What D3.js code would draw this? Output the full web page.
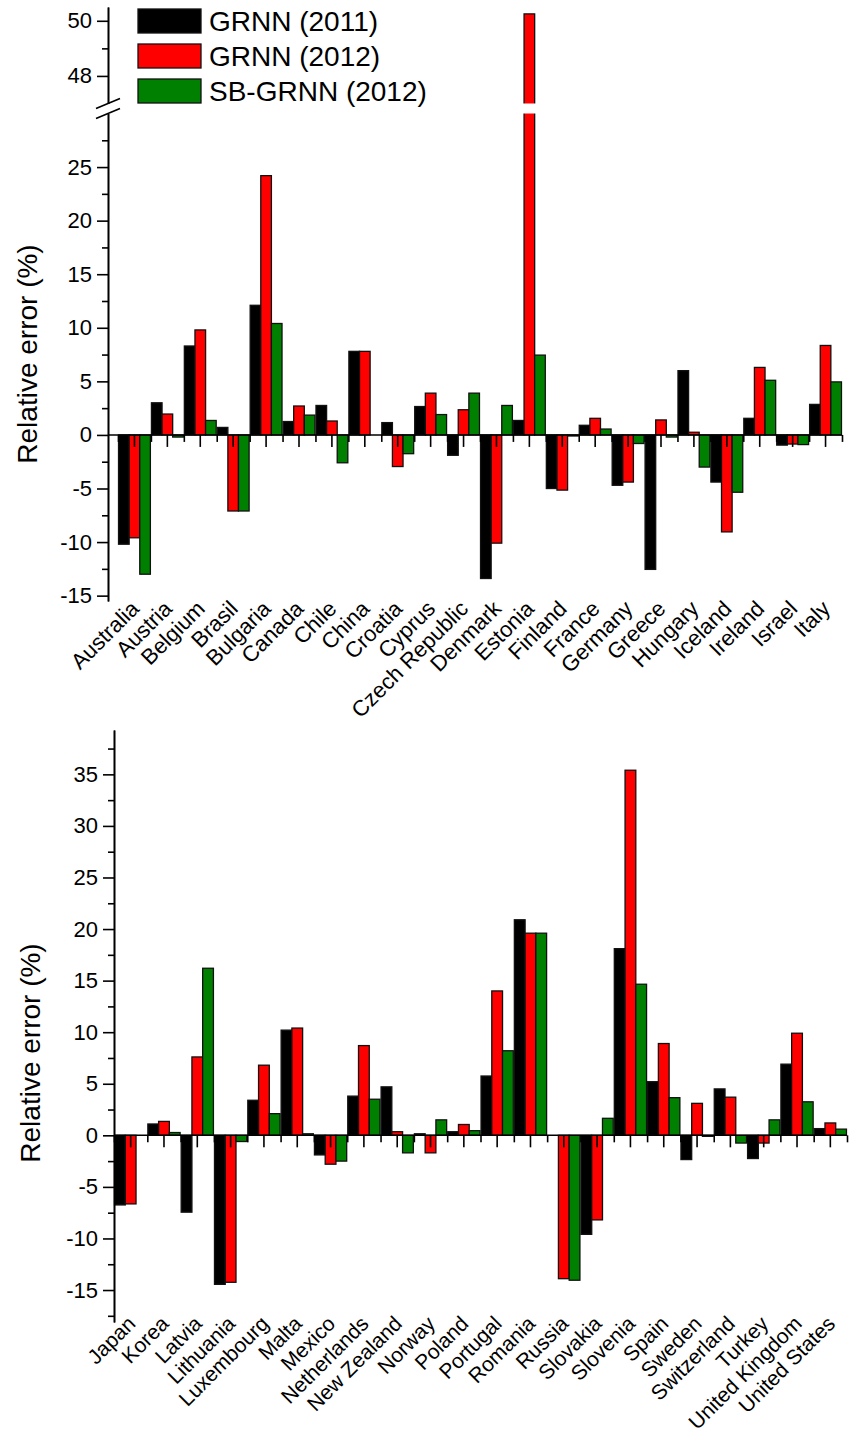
<!DOCTYPE html>
<html><head><meta charset="utf-8">
<script src="https://cdn.jsdelivr.net/npm/d3@7"></script>
<style>
body{margin:0;background:#fff}
text{font-family:Arial,"Liberation Sans",sans-serif;fill:#000}
</style>
</head><body>
<svg id="c" width="857" height="1438"></svg>
<script>
// ---------- data ----------
const seriesNames = ["GRNN (2011)", "GRNN (2012)", "SB-GRNN (2012)"];
const seriesColors = ["#000000", "#ff0000", "#008000"];

const topCategories = ["Australia","Austria","Belgium","Brasil","Bulgaria","Canada","Chile","China","Croatia","Cyprus","Czech Republic","Denmark","Estonia","Finland","France","Germany","Greece","Hungary","Iceland","Ireland","Israel","Italy"];
const topGRNN2011   = [-10.2, 3.0, 8.3, 0.7, 12.1, 1.25, 2.75, 7.8, 1.15, 2.65, -1.9, -13.4, 1.35, -5.0, 0.9, -4.7, -12.55, 6.0, -4.4, 1.55, -0.95, 2.85];
const topGRNN2012   = [-9.6, 1.95, 9.8, -7.1, 24.2, 2.7, 1.3, 7.8, -2.95, 3.9, 2.35, -10.1, 50.25, -5.15, 1.55, -4.4, 1.4, 0.25, -9.05, 6.3, -0.85, 8.35];
const topSBGRNN2012 = [-13.0, -0.2, 1.35, -7.1, 10.4, 1.85, -2.6, 0, -1.75, 1.9, 3.9, 2.75, 7.45, -0.1, 0.55, -0.8, -0.2, -3.0, -5.35, 5.1, -0.9, 4.95];

const botCategories = ["Japan","Korea","Latvia","Lithuania","Luxembourg","Malta","Mexico","Netherlands","New Zealand","Norway","Poland","Portugal","Romania","Russia","Slovakia","Slovenia","Spain","Sweden","Switzerland","Turkey","United Kingdom","United States"];
const botGRNN2011   = [-6.75, 1.1, -7.45, -14.45, 3.4, 10.2, -1.9, 3.8, 4.7, 0.15, 0.35, 5.75, 20.9, 0, -9.6, 18.1, 5.2, -2.35, 4.5, -2.25, 6.9, 0.65];
const botGRNN2012   = [-6.65, 1.35, 7.6, -14.25, 6.8, 10.4, -2.8, 8.7, 0.35, -1.7, 1.05, 14.0, 19.6, -13.9, -8.2, 35.4, 8.9, 3.1, 3.7, -0.75, 9.9, 1.2];
const botSBGRNN2012 = [0, 0.27, 16.2, -0.6, 2.1, 0.15, -2.5, 3.5, -1.7, 1.5, 0.45, 8.2, 19.6, -14.05, 1.65, 14.65, 3.65, -0.1, -0.75, 1.5, 3.25, 0.6];

const topMajorTicks = [-15, -10, -5, 0, 5, 10, 15, 20, 25];
const topMinorTicks = [-12.5, -7.5, -2.5, 2.5, 7.5, 12.5, 17.5, 22.5, 27.5];
const topUpperMajorTicks = [48, 50];
const topUpperMinorTicks = [49];
const botMajorTicks = [-15, -10, -5, 0, 5, 10, 15, 20, 25, 30, 35];
const botMinorTicks = [-17.5, -12.5, -7.5, -2.5, 2.5, 7.5, 12.5, 17.5, 22.5, 27.5, 32.5, 37.5];
const yTitle = "Relative error (%)";

// ---------- drawing ----------
const svg = d3.select("#c");
const FONT_TICK = 22, FONT_TITLE = 28, FONT_LEG = 28;

function drawPanel(cfg) {
  const g = svg.append("g");
  const series = cfg.series;
  const x = d3.scaleBand().domain(cfg.categories).range(cfg.xRange).paddingInner(0).paddingOuter(0);
  const inner = d3.scaleBand().domain(d3.range(series.length)).range([0, x.bandwidth()]).paddingOuter(0.05).paddingInner(0);
  const yL = d3.scaleLinear().domain(cfg.yDomain).range(cfg.yRange);
  const yH = cfg.upper ? d3.scaleLinear().domain(cfg.upper.domain).range(cfg.upper.range) : null;
  const y0 = yL(0);
  const lowTop = cfg.yDomain[1];

  // bars
  series.forEach((vals, si) => {
    cfg.categories.forEach((c, ci) => {
      const v = vals[ci];
      const bx = x(c) + inner(si);
      const bw = inner.bandwidth();
      if (yH && v > lowTop) {
        const mid = (cfg.yRange[1] + cfg.upper.range[0]) / 2;
        g.append("rect").attr("x", bx).attr("y", mid).attr("width", bw).attr("height", y0 - mid)
          .attr("fill", seriesColors[si]).attr("stroke", "#111").attr("stroke-width", 1.3);
        g.append("rect").attr("x", bx).attr("y", yH(v)).attr("width", bw).attr("height", mid - yH(v))
          .attr("fill", seriesColors[si]).attr("stroke", "#111").attr("stroke-width", 1.3);
        g.append("rect").attr("x", bx - 2).attr("y", cfg.upper.range[0]).attr("width", bw + 4)
          .attr("height", cfg.yRange[1] - cfg.upper.range[0]).attr("fill", "#fff");
      } else {
        const yv = yL(v);
        g.append("rect").attr("x", bx).attr("y", Math.min(yv, y0)).attr("width", bw)
          .attr("height", Math.abs(yv - y0))
          .attr("fill", seriesColors[si]).attr("stroke", "#111").attr("stroke-width", 1.3);
      }
    });
  });

  // zero line + x ticks
  g.append("line").attr("x1", cfg.axisX).attr("x2", cfg.xRange[1]).attr("y1", y0).attr("y2", y0)
    .attr("stroke", "#000").attr("stroke-width", 1.6);
  const xMajor = d3.axisBottom(x).tickSize(12).tickSizeOuter(0).tickFormat("");
  const gxM = g.append("g").attr("transform", `translate(0,${y0})`).call(xMajor);
  const bnd = d3.scaleLinear().domain([0, cfg.categories.length]).range(cfg.xRange);
  const xMinor = d3.axisBottom(bnd).tickValues(d3.range(cfg.categories.length + 1)).tickSize(7).tickSizeOuter(0).tickFormat("");
  const gxm = g.append("g").attr("transform", `translate(0,${y0})`).call(xMinor);
  [gxM, gxm].forEach(a => { a.select(".domain").remove(); a.selectAll("line").attr("stroke", "#000").attr("stroke-width", 1.6); });

  // y axis
  const styleAxis = a => { a.select(".domain").attr("stroke", "#000").attr("stroke-width", 1.6);
    a.selectAll("line").attr("stroke", "#000").attr("stroke-width", 1.6);
    a.selectAll("text").style("font-size", FONT_TICK + "px").attr("fill", "#000")
      .style("font-family", "Arial, 'Liberation Sans', sans-serif"); };
  const fmt = d => String(d);
  const yMaj = d3.axisLeft(yL).tickValues(cfg.majorTicks).tickSize(11).tickSizeOuter(0).tickPadding(5).tickFormat(fmt);
  const yMin = d3.axisLeft(yL).tickValues(cfg.minorTicks).tickSize(6).tickSizeOuter(0).tickFormat("");
  const ga = g.append("g").attr("transform", `translate(${cfg.axisX},0)`).call(yMaj); styleAxis(ga);
  const gb = g.append("g").attr("transform", `translate(${cfg.axisX},0)`).call(yMin); styleAxis(gb);

  if (yH) {
    const yMajU = d3.axisLeft(yH).tickValues(cfg.upper.major).tickSize(11).tickSizeOuter(0).tickPadding(5).tickFormat(fmt);
    const yMinU = d3.axisLeft(yH).tickValues(cfg.upper.minor).tickSize(6).tickSizeOuter(0).tickFormat("");
    const gc = g.append("g").attr("transform", `translate(${cfg.axisX},0)`).call(yMajU); styleAxis(gc);
    const gd = g.append("g").attr("transform", `translate(${cfg.axisX},0)`).call(yMinU); styleAxis(gd);
    // break marks
    const ax = cfg.axisX;
    [cfg.upper.range[0], cfg.yRange[1]].forEach(yy => {
      g.append("line").attr("x1", ax - 12).attr("y1", yy + 5).attr("x2", ax + 12).attr("y2", yy - 5)
        .attr("stroke", "#000").attr("stroke-width", 1.6);
    });
  }

  // x labels
  const labY = cfg.yRange[0] + cfg.labOffset;
  g.selectAll("text.xl").data(cfg.categories).enter().append("text").attr("class", "xl")
    .attr("text-anchor", "end")
    .attr("transform", d => `translate(${x(d) + x.bandwidth() / 2 + 6},${labY}) rotate(-45)`)
    .style("font-size", cfg.labFont + "px").text(d => d);

  // y title
  g.append("text").attr("text-anchor", "middle")
    .attr("transform", `translate(${cfg.titleX},${cfg.titleY}) rotate(-90)`)
    .style("font-size", FONT_TITLE + "px").text(yTitle);
}

drawPanel({
  categories: topCategories,
  series: [topGRNN2011, topGRNN2012, topSBGRNN2012],
  xRange: [118, 842], axisX: 108,
  yDomain: [-15.5, 30], yRange: [601, 113.5],
  upper: { domain: [47, 50.5], range: [103.5, 7], major: topUpperMajorTicks, minor: topUpperMinorTicks },
  majorTicks: topMajorTicks, minorTicks: topMinorTicks,
  labOffset: 9, labFont: 22,
  titleX: 37, titleY: 354
});

drawPanel({
  categories: botCategories,
  series: [botGRNN2011, botGRNN2012, botSBGRNN2012],
  xRange: [114, 847], axisX: 114,
  yDomain: [-18.1, 39.3], yRange: [1322, 730],
  majorTicks: botMajorTicks, minorTicks: botMinorTicks,
  labOffset: 3, labFont: 21,
  titleX: 40, titleY: 1053
});

// legend
const leg = svg.append("g");
seriesNames.forEach((n, i) => {
  leg.append("rect").attr("x", 138).attr("y", 9 + i * 35).attr("width", 63).attr("height", 24)
    .attr("fill", seriesColors[i]).attr("stroke", "#111").attr("stroke-width", 1.3);
  leg.append("text").attr("x", 209).attr("y", 31 + i * 35).style("font-size", FONT_LEG + "px").text(n);
});
</script>
</body></html>
